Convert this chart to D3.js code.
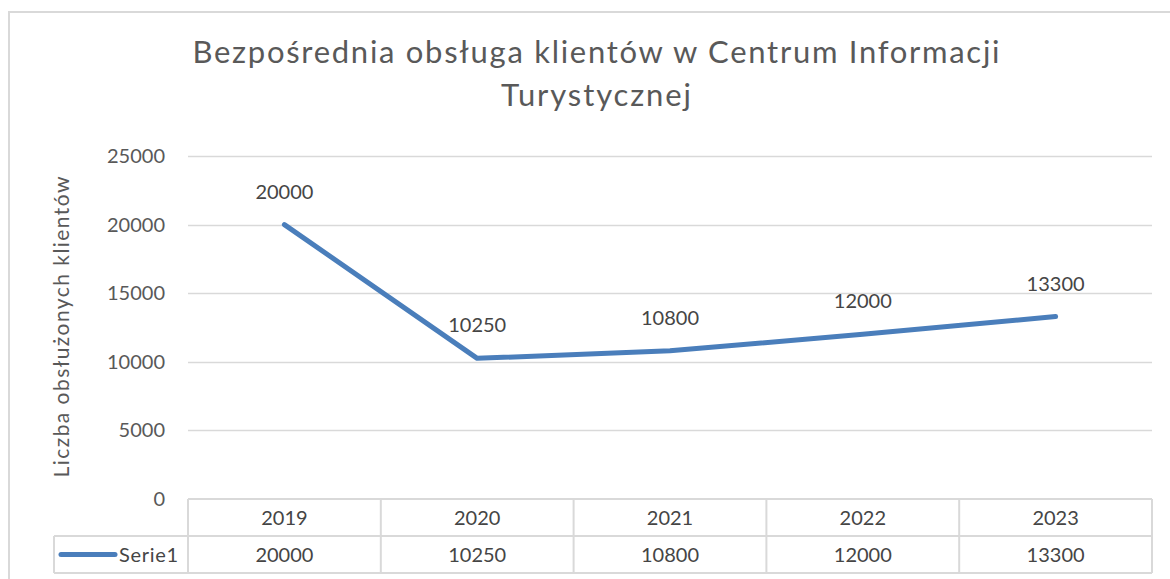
<!DOCTYPE html>
<html lang="pl">
<head>
<meta charset="utf-8">
<script src="https://cdn.jsdelivr.net/npm/d3@7"></script>
<style>
  html, body { margin: 0; padding: 0; background: #fff; }
  svg { display: block; font-family: Lato, "Open Sans", sans-serif; }
</style>
</head>
<body>
<div id="chart"></div>
<script>
/* Bezpośrednia obsługa klientów — line with data table (Excel look) */

const YEARS = ['2019', '2020', '2021', '2022', '2023'];
const VALUES = [20000, 10250, 10800, 12000, 13300];
const Y_TICKS = [0, 5000, 10000, 15000, 20000, 25000];
const SERIES_NAME = 'Serie1';
const TITLE = ['Bezpośrednia obsługa klientów w Centrum Informacji', 'Turystycznej'];
const Y_TITLE = 'Liczba obsłużonych klientów';

const W = 1170, H = 579;
const BLUE = '#4a7ebb';
const INK = '#595959';
const INK_DARK = '#454545';
const GRID = '#d9d9d9';

const M = { top: 156, right: 18, bottom: 80, left: 188 };
const rowH = 37;
const legendLeft = 54;
const FS = 20;

const svg = d3.select('#chart').append('svg')
  .attr('width', W).attr('height', H)
  .attr('viewBox', `0 0 ${W} ${H}`);

/* chart frame (only left + top edges fall inside the crop) */
svg.append('rect')
  .attr('x', 9).attr('y', 12)
  .attr('width', W + 20).attr('height', H + 20)
  .attr('fill', 'none').attr('stroke', GRID).attr('stroke-width', 2);

const x = d3.scaleBand().domain(YEARS).range([M.left, W - M.right]);
const y = d3.scaleLinear().domain([0, 25000]).range([H - M.bottom, M.top]);
const cx = (d) => x(d) + x.bandwidth() / 2;

/* title — Lato is wider-set than Calibri, so pin the line width */
const TITLE_W = [807, 190];
svg.append('g').selectAll('text').data(TITLE).join('text')
  .attr('x', 596)
  .attr('y', (d, i) => 63 + i * 43)
  .attr('text-anchor', 'middle')
  .attr('font-size', 31)
  .attr('fill', INK)
  .attr('textLength', (d, i) => TITLE_W[i])
  .attr('lengthAdjust', 'spacing')
  .text((d) => d);

/* gridlines */
svg.append('g').selectAll('line').data(Y_TICKS.filter((t) => t > 0)).join('line')
  .attr('x1', M.left).attr('x2', W - M.right)
  .attr('y1', (d) => Math.round(y(d)) + 0.5).attr('y2', (d) => Math.round(y(d)) + 0.5)
  .attr('stroke', GRID).attr('stroke-width', 1.5);

/* y tick labels */
svg.append('g').selectAll('text').data(Y_TICKS).join('text')
  .attr('x', 165)
  .attr('y', (d) => y(d) + 7)
  .attr('text-anchor', 'end')
  .attr('font-size', FS)
  .attr('fill', INK)
  .text((d) => d);

/* y axis title */
svg.append('text')
  .attr('transform', `translate(69, 327) rotate(-90)`)
  .attr('text-anchor', 'middle')
  .attr('font-size', 21)
  .attr('fill', INK)
  .attr('textLength', 301)
  .attr('lengthAdjust', 'spacing')
  .text(Y_TITLE);

/* data table */
const tY0 = H - M.bottom;
const tbl = svg.append('g').attr('stroke', GRID).attr('stroke-width', 2).attr('fill', 'none');
tbl.append('line').attr('x1', M.left).attr('x2', W - M.right).attr('y1', tY0).attr('y2', tY0);
tbl.append('line').attr('x1', legendLeft).attr('x2', W - M.right).attr('y1', tY0 + rowH).attr('y2', tY0 + rowH);
tbl.append('line').attr('x1', legendLeft).attr('x2', W - M.right).attr('y1', tY0 + 2 * rowH).attr('y2', tY0 + 2 * rowH);
tbl.append('line').attr('x1', legendLeft).attr('x2', legendLeft).attr('y1', tY0 + rowH).attr('y2', tY0 + 2 * rowH);
tbl.selectAll('line.col').data(YEARS.concat(['end'])).join('line')
  .attr('class', 'col')
  .attr('x1', (d) => d === 'end' ? W - M.right : x(d))
  .attr('x2', (d) => d === 'end' ? W - M.right : x(d))
  .attr('y1', tY0).attr('y2', tY0 + 2 * rowH);

svg.append('g').selectAll('text').data(YEARS).join('text')
  .attr('x', cx).attr('y', tY0 + rowH / 2 + 7.5)
  .attr('text-anchor', 'middle').attr('font-size', FS).attr('fill', INK_DARK)
  .text((d) => d);

svg.append('g').selectAll('text').data(VALUES).join('text')
  .attr('x', (d, i) => cx(YEARS[i])).attr('y', tY0 + rowH * 1.5 + 7.5)
  .attr('text-anchor', 'middle').attr('font-size', FS).attr('fill', INK_DARK)
  .text((d) => d);

/* legend key in the table */
svg.append('line')
  .attr('x1', 61).attr('x2', 115)
  .attr('y1', tY0 + rowH * 1.5).attr('y2', tY0 + rowH * 1.5)
  .attr('stroke', BLUE).attr('stroke-width', 5).attr('stroke-linecap', 'round');
svg.append('text')
  .attr('x', 119).attr('y', tY0 + rowH * 1.5 + 7.5)
  .attr('font-size', FS).attr('fill', INK_DARK)
  .attr('textLength', 59)
  .attr('lengthAdjust', 'spacing')
  .text(SERIES_NAME);

/* series line */
const pts = VALUES.map((v, i) => [cx(YEARS[i]), y(v)]);
svg.append('path')
  .attr('d', d3.line()(pts))
  .attr('fill', 'none')
  .attr('stroke', BLUE)
  .attr('stroke-width', 5)
  .attr('stroke-linejoin', 'round')
  .attr('stroke-linecap', 'round');

/* data labels */
svg.append('g').selectAll('text').data(VALUES).join('text')
  .attr('x', (d, i) => cx(YEARS[i]))
  .attr('y', (d) => y(d) - 26)
  .attr('text-anchor', 'middle')
  .attr('font-size', FS)
  .attr('fill', INK_DARK)
  .text((d) => d);
</script>
</body>
</html>
